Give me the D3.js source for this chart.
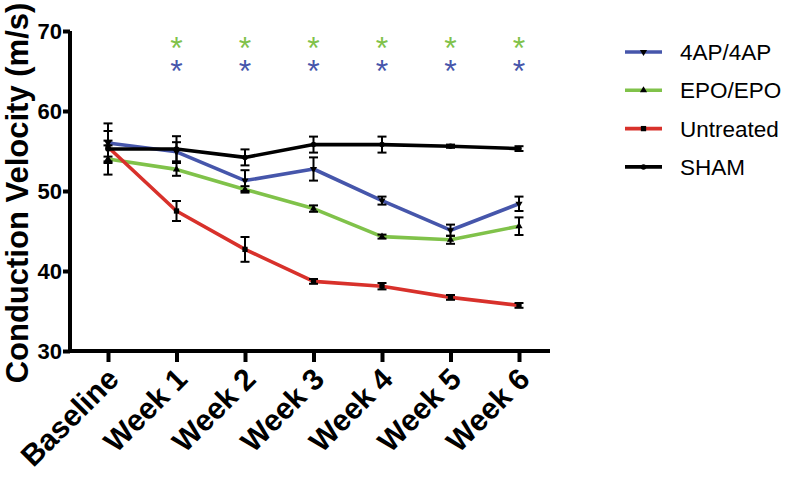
<!DOCTYPE html>
<html><head><meta charset="utf-8">
<script src="https://cdn.jsdelivr.net/npm/d3@7"></script>
<style>body{margin:0;background:#fff}svg{display:block}text{font-family:"Liberation Sans",Arial,sans-serif}</style>
</head><body><svg id="c" width="796" height="478"></svg>
<script>
const categories = ["Baseline","Week 1","Week 2","Week 3","Week 4","Week 5","Week 6"];
const yTicks = [30,40,50,60,70];
const seriesNames = ["4AP/4AP","EPO/EPO","Untreated","SHAM"];
const seriesColors = ["#4656ab","#80c24a","#d8312b","#000000"];
const seriesSymbols = ["down","up","square","circle"];
const ap4 = [56.0,54.9,51.3,52.75,48.8,45.1,48.4];
const ap4Err = [0.3,1.2,1.3,1.45,0.5,0.7,0.9];
const epo = [54.0,52.7,50.2,47.8,44.3,43.9,45.6];
const epoErr = [0.3,0.8,0.4,0.4,0.25,0.5,1.1];
const untreated = [55.5,47.5,42.7,38.7,38.1,36.7,35.7];
const untreatedErr = [2.0,1.25,1.55,0.3,0.4,0.3,0.3];
const sham = [55.25,55.25,54.2,55.8,55.8,55.6,55.3];
const shamErr = [3.2,1.6,1.0,1.0,1.0,0.2,0.3];
const starCategories = ["Week 1","Week 2","Week 3","Week 4","Week 5","Week 6"];
const starRows = [{label:"*",color:"#80c24a"},{label:"*",color:"#4656ab"}];

const values = [ap4,epo,untreated,sham];
const errs = [ap4Err,epoErr,untreatedErr,shamErr];

const svg = d3.select("#c");
const x = d3.scalePoint().domain(categories).range([108,519]);
const y = d3.scaleLinear().domain([30,70]).range([351,31]);

// axes
const yAx = svg.append("g").attr("transform","translate(70,0)")
  .call(d3.axisLeft(y).tickValues(yTicks).tickSize(7).tickPadding(1));
yAx.select(".domain").attr("stroke-width",4).attr("d","M0,"+y(70)+"V"+(y(30)+2));
yAx.selectAll(".tick line").attr("stroke-width",4);
yAx.selectAll(".tick text").attr("font-size",22).attr("font-weight","bold").attr("fill","#000");

const xAx = svg.append("g").attr("transform","translate(0,"+y(30)+")")
  .call(d3.axisBottom(x).tickSize(11).tickPadding(4));
xAx.select(".domain").attr("stroke-width",4).attr("d","M68,0H550");
xAx.selectAll(".tick line").attr("stroke-width",4);
xAx.selectAll(".tick text").attr("font-size",30).attr("font-weight","bold").attr("fill","#000")
  .attr("text-anchor","end").attr("dy",null).attr("y",0)
  .attr("transform","translate(12,30) rotate(-45)");

svg.append("text").attr("transform","translate(28,193) rotate(-90)")
  .attr("text-anchor","middle").attr("font-size",31).attr("font-weight","bold")
  .text("Conduction Velocity (m/s)");

// lines
const line = d3.line().x((d,i)=>x(categories[i])).y(d=>y(d));
values.forEach((vals,s)=>{
  svg.append("path").datum(vals).attr("d",line).attr("fill","none")
    .attr("stroke",seriesColors[s]).attr("stroke-width",3.6).attr("stroke-linejoin","round");
});
// error bars
values.forEach((vals,s)=>{
  const g = svg.append("g").attr("stroke","#000").attr("stroke-width",2);
  vals.forEach((v,i)=>{
    const cx = x(categories[i]), e = errs[s][i];
    g.append("line").attr("x1",cx).attr("x2",cx).attr("y1",y(v+e)).attr("y2",y(v-e));
    [v+e,v-e].forEach(t=>g.append("line").attr("x1",cx-4.5).attr("x2",cx+4.5).attr("y1",y(t)).attr("y2",y(t)));
  });
});
// markers
function sym(t){return t==="down"||t==="up"?d3.symbol(d3.symbolTriangle,22):t==="square"?d3.symbol(d3.symbolSquare,28):d3.symbol(d3.symbolCircle,24);}
values.forEach((vals,s)=>{
  vals.forEach((v,i)=>{
    svg.append("path").attr("d",sym(seriesSymbols[s])())
      .attr("transform","translate("+x(categories[i])+","+y(v)+")"+(seriesSymbols[s]==="down"?" rotate(180)":""))
      .attr("fill","#000");
  });
});
// stars
starRows.forEach((r,k)=>{
  starCategories.forEach(c=>{
    svg.append("text").attr("x",x(c)).attr("y",59+k*23).attr("text-anchor","middle")
      .attr("font-size",32).attr("fill",r.color).text(r.label);
  });
});
// legend
seriesNames.forEach((n,s)=>{
  const ly = 52+s*38.3;
  const g = svg.append("g");
  g.append("line").attr("x1",625).attr("x2",662).attr("y1",ly).attr("y2",ly)
    .attr("stroke",seriesColors[s]).attr("stroke-width",3.6);
  g.append("path").attr("d",sym(seriesSymbols[s])())
    .attr("transform","translate(643.5,"+ly+")"+(seriesSymbols[s]==="down"?" rotate(180)":"")).attr("fill","#000");
  g.append("text").attr("x",680).attr("y",ly+8).attr("font-size",22.5).text(n);
});
</script></body></html>
